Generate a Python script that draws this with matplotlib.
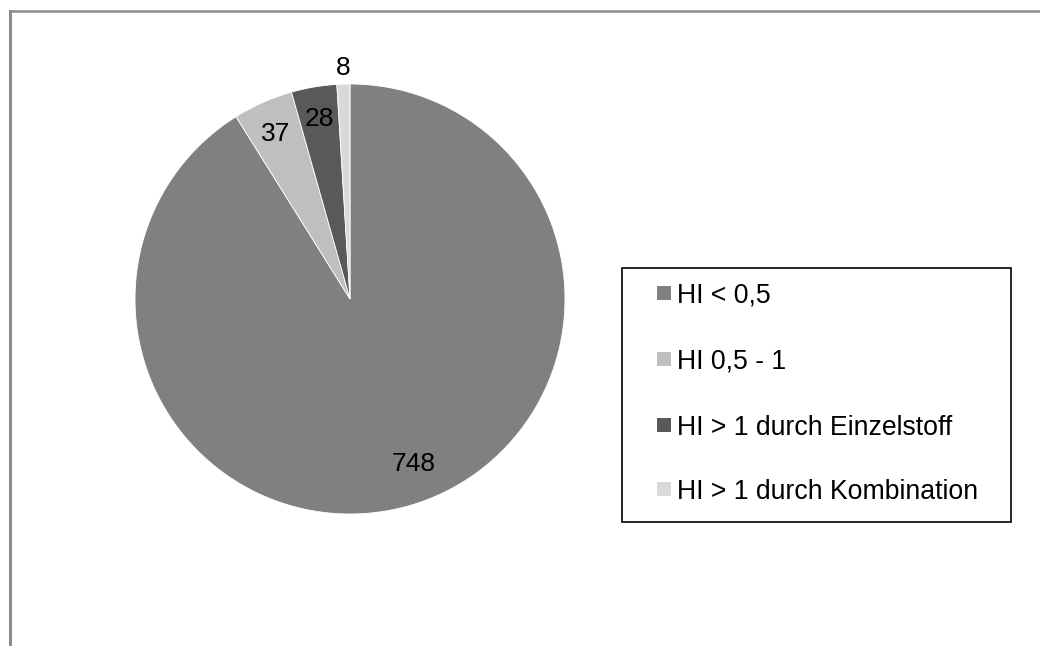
import numpy as np
import matplotlib.pyplot as plt
from matplotlib.patches import Rectangle
from matplotlib.lines import Line2D

plt.rcParams['font.family'] = ['Liberation Sans', 'DejaVu Sans']

# Daten
kategorien = ['HI < 0,5', 'HI 0,5 - 1', 'HI > 1 durch Einzelstoff', 'HI > 1 durch Kombination']
werte = [748, 37, 28, 8]
farben = ['#808080', '#bfbfbf', '#595959', '#d9d9d9']

W, H = 1040, 646
fig = plt.figure(figsize=(W / 100, H / 100), dpi=100)

# Rahmen (nur links und oben sichtbar)
fig.add_artist(Line2D([9.5 / W, 9.5 / W], [0, 1 - 10.5 / H], color='#8c8c8c', lw=2.2,
                      transform=fig.transFigure))
fig.add_artist(Line2D([9.5 / W, 1], [1 - 10.5 / H, 1 - 10.5 / H], color='#8c8c8c', lw=1.8,
                      transform=fig.transFigure))

# Kreisdiagramm
cx, cy, r = 350, 299, 215
ax = fig.add_axes([(cx - r) / W, (H - cy - r) / H, 2 * r / W, 2 * r / H])
wedges, _ = ax.pie(werte, colors=farben, startangle=90, counterclock=False,
                   wedgeprops=dict(edgecolor='white', linewidth=0.6))
ax.set_xlim(-1, 1)
ax.set_ylim(-1, 1)
ax.set_aspect('auto')
ax.axis('off')

# Beschriftungen
dist = [0.81, 0.85, 0.86, 1.085]
dwinkel = [5.5, 0, 0, 0]
for w, v, d, da in zip(wedges, werte, dist, dwinkel):
    ang = np.deg2rad((w.theta1 + w.theta2) / 2 + da)
    ax.text(d * np.cos(ang), d * np.sin(ang), str(v), ha='center', va='center_baseline',
            fontsize=19, color='black')

# Legende mit eigenem Rahmen
lx0, ly0, lx1, ly1 = 622, 268, 1011, 522
fig.add_artist(Rectangle((lx0 / W, 1 - ly1 / H), (lx1 - lx0) / W, (ly1 - ly0) / H,
                         transform=fig.transFigure, facecolor='white',
                         edgecolor='black', lw=1.2))
rows = [293, 359, 425, 489]
for name, c, y in zip(kategorien, farben, rows):
    fig.add_artist(Rectangle((657 / W, 1 - (y + 7) / H), 14 / W, 14 / H,
                             transform=fig.transFigure, facecolor=c, edgecolor='none'))
    fig.text(677 / W, 1 - y / H, name, ha='left', va='center_baseline', fontsize=19.2)

fig.savefig('out.png', dpi=100)
